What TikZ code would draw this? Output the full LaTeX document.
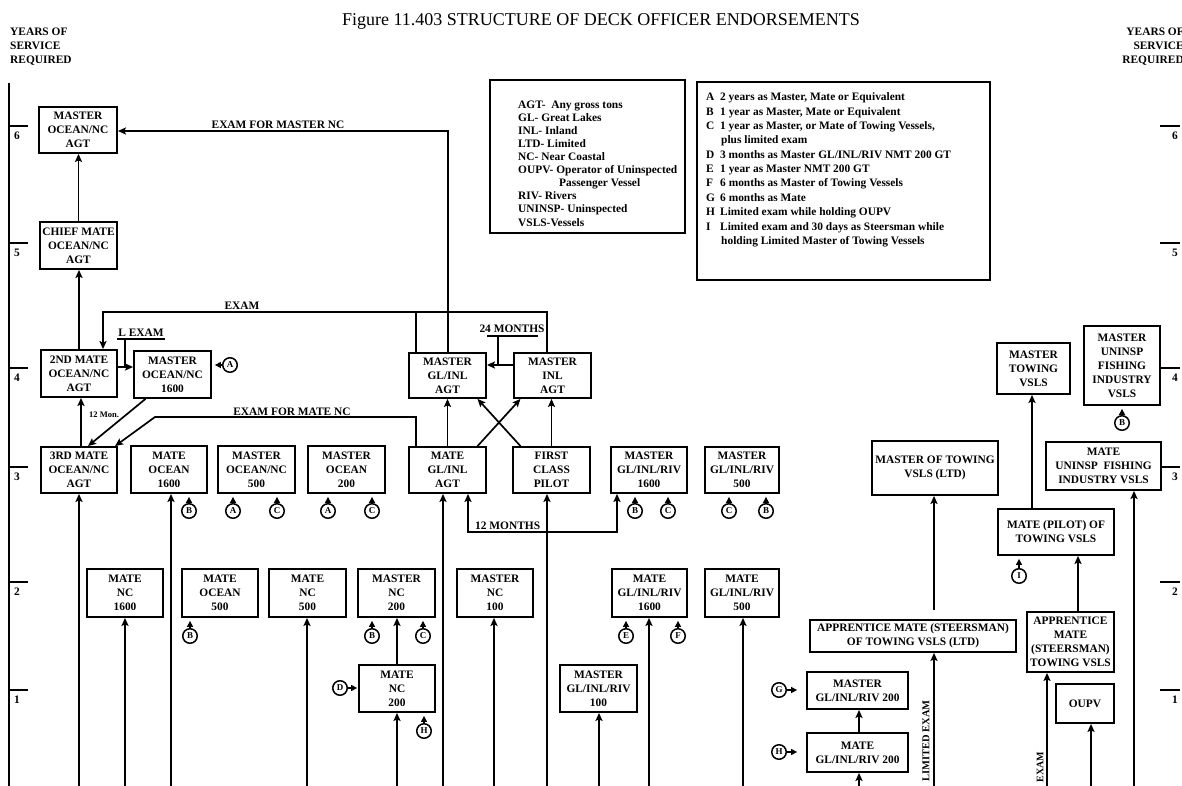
\documentclass[tikz,border=0pt]{standalone}
\usepackage{fontspec}
\setmainfont{Liberation Serif}
\usetikzlibrary{arrows.meta}
\newcommand\DBox[6]{\node[box, minimum width={#4-#2}, minimum height={#5-#3}] (#1) at ({(#2+#4)/2},{(#3+#5)/2}) {#6};}
\begin{document}
\begin{tikzpicture}[x=1pt,y=-1pt,
  every node/.style={inner sep=0pt, font=\bfseries\fontsize{11.4}{14}\selectfont},
  box/.style={draw, line width=1.8pt, align=center},
  ln/.style={line width=1.7pt},
  arr/.style={line width=1.7pt, -{Stealth[length=8pt,width=7pt,inset=1.5pt]}},
  dblarr/.style={line width=1.7pt, {Stealth[length=8pt,width=7pt,inset=1.5pt]}-{Stealth[length=8pt,width=7pt,inset=1.5pt]}},
  circ/.style={draw, circle, line width=1.5pt, minimum size=14.5pt, font=\bfseries\fontsize{9}{10}\selectfont},
  carr/.style={line width=1.2pt, -{Triangle[length=6pt,width=6pt]}, shorten >=3pt},
  leg/.style={anchor=base west},
  lbl/.style={anchor=base},
]
\useasboundingbox (0,0) rectangle (1182,786);

% ---------- title and headers ----------
\node[anchor=base, font=\normalfont\fontsize{18}{22}\selectfont] (title) at (601,26) {Figure 11.403 STRUCTURE OF DECK OFFICER ENDORSEMENTS};
\node[anchor=base west] (hl1) at (10,36) {YEARS OF};
\node[anchor=base west] (hl2) at (10,50) {SERVICE};
\node[anchor=base west] (hl3) at (10,64) {REQUIRED};
\node[anchor=base east] (hr1) at (1184,36) {YEARS OF};
\node[anchor=base east] (hr2) at (1184,50) {SERVICE};
\node[anchor=base east] (hr3) at (1184,64) {REQUIRED};

% ---------- axes ----------
\coordinate (axT) at (9,83);
\coordinate (axB) at (9,786);
\draw[ln] (axT) -- (axB);
\foreach \yy/\lab in {126/6,243/5,368/4,467/3,582/2,690/1}{
  \draw[ln] (9,\yy) -- (28,\yy);
  \node (yl\lab) at (17,\yy+10) {\lab};
  \draw[ln] (1160,\yy) -- (1180,\yy);
  \node (yr\lab) at (1175,\yy+10) {\lab};
}

% ---------- legends ----------
\DBox{leg1}{490}{80}{685}{233}{}
\node[leg] (la1) at (518,109) {AGT-\ \ Any gross tons};
\node[leg] (la2) at (518,122) {GL- Great Lakes};
\node[leg] (la3) at (518,135) {INL- Inland};
\node[leg] (la4) at (518,148) {LTD- Limited};
\node[leg] (la5) at (518,161) {NC- Near Coastal};
\node[leg] (la6) at (518,174) {OUPV- Operator of Uninspected};
\node[leg] (la7) at (559,187) {Passenger Vessel};
\node[leg] (la8) at (518,200) {RIV- Rivers};
\node[leg] (la9) at (518,213) {UNINSP- Uninspected};
\node[leg] (la10) at (518,226) {VSLS-Vessels};

\DBox{leg2}{697}{82}{990}{280}{}
\node[leg] (lb1) at (706,101) {\makebox[14pt][l]{A}2 years as Master, Mate or Equivalent};
\node[leg] (lb2) at (706,115.3) {\makebox[14pt][l]{B}1 year as Master, Mate or Equivalent};
\node[leg] (lb3) at (706,129.7) {\makebox[14pt][l]{C}1 year as Master, or Mate of Towing Vessels,};
\node[leg] (lb4) at (721,144) {plus limited exam};
\node[leg] (lb5) at (706,158.3) {\makebox[14pt][l]{D}3 months as Master GL/INL/RIV NMT 200 GT};
\node[leg] (lb6) at (706,172.7) {\makebox[14pt][l]{E}1 year as Master NMT 200 GT};
\node[leg] (lb7) at (706,187) {\makebox[14pt][l]{F}6 months as Master of Towing Vessels};
\node[leg] (lb8) at (706,201.3) {\makebox[14pt][l]{G}6 months as Mate};
\node[leg] (lb9) at (706,215.7) {\makebox[14pt][l]{H}Limited exam while holding OUPV};
\node[leg] (lb10) at (706,230) {\makebox[14pt][l]{I}Limited exam and 30 days as Steersman while};
\node[leg] (lb11) at (721,244.3) {holding Limited Master of Towing Vessels};

% ---------- boxes ----------
\DBox{m6}{39}{107}{117}{153}{MASTER\\OCEAN/NC\\AGT}
\DBox{chief}{40}{222}{117}{269}{CHIEF MATE\\OCEAN/NC\\AGT}
\DBox{mate2}{41}{350}{117}{397}{2ND MATE\\OCEAN/NC\\AGT}
\DBox{mo1600}{134}{351}{211}{398}{MASTER\\OCEAN/NC\\1600}
\DBox{mglinl}{409}{353}{486}{398}{MASTER\\GL/INL\\AGT}
\DBox{minl}{514}{353}{591}{398}{MASTER\\INL\\AGT}
\DBox{mtow}{997}{343}{1070}{394}{MASTER\\TOWING\\VSLS}
\DBox{mfish}{1084}{326}{1160}{405}{MASTER\\UNINSP\\FISHING\\INDUSTRY\\VSLS}
\DBox{mate3}{41}{447}{117}{493}{3RD MATE\\OCEAN/NC\\AGT}
\DBox{mateo1600}{131}{446}{207}{493}{MATE\\OCEAN\\1600}
\DBox{mo500}{218}{446}{295}{493}{MASTER\\OCEAN/NC\\500}
\DBox{mo200}{308}{446}{385}{493}{MASTER\\OCEAN\\200}
\DBox{mateglinl}{409}{447}{486}{493}{MATE\\GL/INL\\AGT}
\DBox{pilot}{513}{447}{590}{493}{FIRST\\CLASS\\PILOT}
\DBox{mglr1600}{611}{447}{687}{493}{MASTER\\GL/INL/RIV\\1600}
\DBox{mglr500}{705}{447}{779}{493}{MASTER\\GL/INL/RIV\\500}
\DBox{mtowltd}{872}{441}{998}{495}{MASTER OF TOWING\\VSLS (LTD)}
\DBox{matefish}{1046}{442}{1161}{490}{MATE\\UNINSP\ \ FISHING\\INDUSTRY VSLS}
\DBox{matenc1600}{87}{569}{163}{617}{MATE\\NC\\1600}
\DBox{mateo500}{182}{569}{258}{617}{MATE\\OCEAN\\500}
\DBox{matenc500}{269}{569}{346}{617}{MATE\\NC\\500}
\DBox{mnc200}{358}{569}{435}{617}{MASTER\\NC\\200}
\DBox{mnc100}{457}{569}{533}{617}{MASTER\\NC\\100}
\DBox{mateglr1600}{612}{569}{687}{617}{MATE\\GL/INL/RIV\\1600}
\DBox{mateglr500}{705}{569}{779}{617}{MATE\\GL/INL/RIV\\500}
\DBox{matepilot}{998}{509}{1114}{555}{MATE (PILOT) OF\\TOWING VSLS}
\DBox{apprltd}{810}{620}{1016}{652}{APPRENTICE MATE (STEERSMAN)\\OF TOWING VSLS (LTD)}
\DBox{apprtow}{1027}{612}{1114}{672}{APPRENTICE\\MATE\\(STEERSMAN)\\TOWING VSLS}
\DBox{matenc200}{359}{665}{435}{712}{MATE\\NC\\200}
\DBox{mglr100}{560}{665}{637}{712}{MASTER\\GL/INL/RIV\\100}
\DBox{mglr200}{807}{672}{908}{709}{MASTER\\GL/INL/RIV 200}
\DBox{oupv}{1056}{684}{1114}{723}{OUPV}
\DBox{mateglr200}{807}{733}{908}{772}{MATE\\GL/INL/RIV 200}

% ---------- vertical arrows from the bottom ----------
\foreach \xx/\nn in {79/mate3, 171/mateo1600, 125/matenc1600, 307/matenc500, 397/matenc200, 443/mateglinl, 494/mnc100, 547/pilot, 599/mglr100, 649/mateglr1600, 743/mateglr500, 859/mateglr200, 934/apprltd, 1047/apprtow, 1091/oupv, 1134/matefish}{
  \coordinate (src\nn) at (\xx,786);
  \draw[arr] (src\nn) -- (src\nn |- \nn.south);
}
\node[rotate=90, font=\bfseries\fontsize{10.5}{12}\selectfont] (lblLim) at (926,741) {LIMITED EXAM};
\node[rotate=90, font=\bfseries\fontsize{10}{12}\selectfont] (lblEx2) at (1040,767) {EXAM};

% ---------- arrows between boxes ----------
\draw[arr] (chief.north) -- (chief.north |- m6.south);
\draw[arr] (mate2.north) -- (mate2.north |- chief.south);
\coordinate (tw) at (81,420);
\draw[arr] (tw |- mate3.north) -- (tw |- mate2.south);
\node[font=\bfseries\fontsize{8.5}{10}\selectfont] (lbl12m) at (104,415) {12 Mon.};
\draw[arr] ([xshift=-27pt]mo1600.south) -- ([xshift=9pt]mate3.north);

% L EXAM
\coordinate (le) at (125,367);
\coordinate (leu) at (125,339);
\coordinate (leu1) at (117,339);
\coordinate (leu2) at (165,339);
\draw[arr] (le -| mate2.east) -- (le -| mo1600.west);
\draw[ln] (leu) -- (le);
\draw[line width=1.2pt] (leu1) -- (leu2);
\node[lbl] (lblLE) at (141,336.5) {L EXAM};

% EXAM for master NC
\coordinate (emn) at (448,131);
\draw[arr] (emn |- mglinl.north) -- (emn) -- (emn -| m6.east);
\node[lbl] (lblEMN) at (278,129) {EXAM FOR MASTER NC};

% EXAM
\coordinate (ex0) at (103,312);
\coordinate (ex1) at (416,312);
\coordinate (ex2) at (547,312);
\draw[ln] (ex1 |- mglinl.north) -- (ex1);
\draw[arr] (ex2 |- minl.north) -- (ex2) -- (ex0) -- (ex0 |- mate2.north);
\node[lbl] (lblEx) at (242,309) {EXAM};

% 24 MONTHS
\coordinate (tf) at (498,365);
\coordinate (tfu) at (498,336);
\coordinate (tfu1) at (487,336);
\coordinate (tfu2) at (538,336);
\draw[arr] (tf -| minl.west) -- (tf -| mglinl.east);
\draw[ln] (tfu) -- (tf);
\draw[line width=1.2pt] (tfu1) -- (tfu2);
\node[lbl] (lbl24) at (512,332) {24 MONTHS};

% cross and vertical arrows to GL/INL masters
\draw[arr] (mateglinl.north) -- (mateglinl.north |- mglinl.south);
\draw[arr] (pilot.north) -- (pilot.north |- minl.south);
\draw[arr] ([xshift=30pt]mateglinl.north) -- ([xshift=-32pt]minl.south);
\draw[arr] ([xshift=-31pt]pilot.north) -- ([xshift=30pt]mglinl.south);

% EXAM FOR MATE NC
\coordinate (em1) at (416,417);
\coordinate (em2) at (155,417);
\draw[arr] (em1 |- mateglinl.north) -- (em1) -- (em2) -- ([xshift=36pt]mate3.north);
\node[lbl] (lblEMC) at (292,415) {EXAM FOR MATE NC};

% 12 MONTHS
\coordinate (tm1) at (468,532);
\coordinate (tm2) at (617,532);
\draw[dblarr] (tm1 |- mateglinl.south) -- (tm1) -- (tm2) -- (tm2 |- mglr1600.south);
\node[anchor=base west] (lbl12) at (475,529) {12 MONTHS};

% other vertical links
\draw[arr] (matenc200.north) -- (matenc200.north |- mnc200.south);
\draw[arr] ([xshift=1.5pt]mateglr200.north) -- ([xshift=1.5pt]mateglr200.north |- mglr200.south);
\coordinate (lt) at (934,610);
\draw[arr] (lt) -- (lt |- mtowltd.south);
\coordinate (ap) at (1078,600);
\draw[arr] (ap |- apprtow.north) -- (ap |- matepilot.south);
\coordinate (mp) at (1032,450);
\draw[arr] (mp |- matepilot.north) -- (mp |- mtow.south);

% ---------- circled conditions ----------
\node[circ] (cA0) at (230,365) {A};
\draw[carr] (cA0) -- (cA0 -| mo1600.east);
\node[circ] (cB1) at (189,511) {B};  \draw[carr] (cB1) -- (cB1 |- mateo1600.south);
\node[circ] (cA1) at (233,511) {A};  \draw[carr] (cA1) -- (cA1 |- mo500.south);
\node[circ] (cC1) at (277,511) {C};  \draw[carr] (cC1) -- (cC1 |- mo500.south);
\node[circ] (cA2) at (328,511) {A};  \draw[carr] (cA2) -- (cA2 |- mo200.south);
\node[circ] (cC2) at (372,511) {C};  \draw[carr] (cC2) -- (cC2 |- mo200.south);
\node[circ] (cB2) at (635,511) {B};  \draw[carr] (cB2) -- (cB2 |- mglr1600.south);
\node[circ] (cC3) at (668,511) {C};  \draw[carr] (cC3) -- (cC3 |- mglr1600.south);
\node[circ] (cC4) at (729,511) {C};  \draw[carr] (cC4) -- (cC4 |- mglr500.south);
\node[circ] (cB3) at (766,511) {B};  \draw[carr] (cB3) -- (cB3 |- mglr500.south);
\node[circ] (cB4) at (190,636) {B};  \draw[carr] (cB4) -- (cB4 |- mateo500.south);
\node[circ] (cB5) at (372,636) {B};  \draw[carr] (cB5) -- (cB5 |- mnc200.south);
\node[circ] (cC5) at (423,636) {C};  \draw[carr] (cC5) -- (cC5 |- mnc200.south);
\node[circ] (cE) at (626,636) {E};   \draw[carr] (cE) -- (cE |- mateglr1600.south);
\node[circ] (cF) at (678,636) {F};   \draw[carr] (cF) -- (cF |- mateglr1600.south);
\node[circ] (cH1) at (424,731) {H};  \draw[carr] (cH1) -- (cH1 |- matenc200.south);
\node[circ] (cB6) at (1122,423) {B}; \draw[carr] (cB6) -- (cB6 |- mfish.south);
\node[circ] (cI) at (1019,576) {I};  \draw[carr] (cI) -- (cI |- matepilot.south);
\node[circ] (cD) at (340,688) {D};   \draw[carr, shorten >=1pt] (cD) -- (cD -| matenc200.west);
\node[circ] (cG) at (779,690) {G};   \draw[carr, shorten >=9pt] (cG) -- (cG -| mglr200.west);
\node[circ] (cH2) at (779,752) {H};  \draw[carr, shorten >=9pt] (cH2) -- (cH2 -| mateglr200.west);
\end{tikzpicture}
\end{document}
